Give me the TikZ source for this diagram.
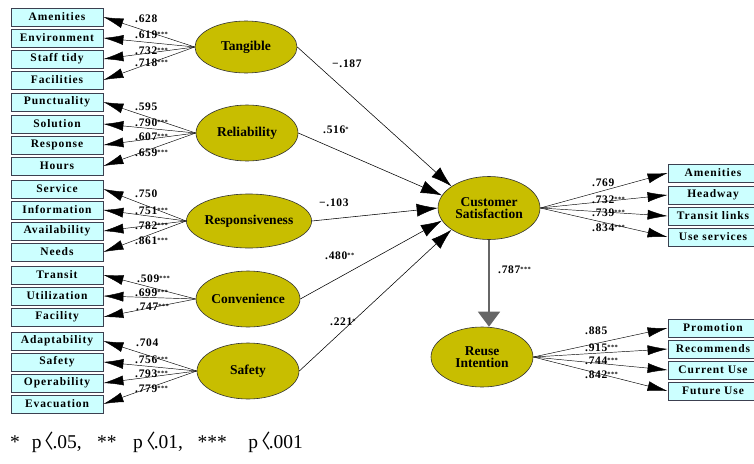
\documentclass[tikz,border=0pt]{standalone}
\usepackage{fontspec}
\setmainfont{Liberation Serif}
\newfontfamily\boxfont[LetterSpace=8]{Liberation Serif}
\newfontfamily\numfont[LetterSpace=6]{Liberation Serif}
\newfontfamily\cjk{Noto Sans CJK KR}
\usetikzlibrary{arrows.meta,shapes.geometric}
\definecolor{boxfill}{RGB}{204,255,255}
\definecolor{boxline}{RGB}{60,64,80}
\definecolor{latfill}{RGB}{200,190,0}
\newcommand\stars[1]{\raisebox{2.5pt}{\fontsize{6.5}{6}\selectfont #1}}
\newcommand\ang{\hspace{-6.7pt}{\cjk 〈}\hspace{-2pt}}
\tikzset{
  obs/.style={draw=boxline, line width=0.8pt, fill=boxfill, minimum width=92pt, minimum height=18pt, inner sep=0pt,
    font=\boxfont\bfseries\fontsize{11.5}{12}\selectfont},
  lat/.style={ellipse, draw=black!80, line width=0.6pt, fill=latfill, minimum width=102pt, minimum height=56pt, inner sep=0pt,
    font=\bfseries\fontsize{13.5}{14}\selectfont, align=center},
  load/.style={line width=0.45pt, -{Latex[length=20pt,width=10pt]}},
  path/.style={line width=0.55pt, -{Latex[length=21pt,width=13pt]}},
  coef/.style={font=\numfont\bfseries\fontsize{11.5}{11}\selectfont, inner sep=0pt, anchor=west},
}
\begin{document}
\begin{tikzpicture}[x=1pt,y=-1pt]
\useasboundingbox (0,0) rectangle (754,463);
% left observed boxes
\foreach \n/\t/\y in {a1/Amenities/17, a2/Environment/38, a3/Staff tidy/59, a4/Facilities/80,
  b1/Punctuality/102, b2/Solution/124, b3/Response/145, b4/Hours/166,
  c1/Service/189, c2/Information/210, c3/Availability/231, c4/Needs/252,
  d1/Transit/275, d2/Utilization/296, d3/Facility/317,
  e1/Adaptability/341, e2/Safety/362, e3/Operability/383, e4/Evacuation/404}
  \node[obs] (\n) at (57,\y) {\t};
% latent variables
\node[lat, minimum height=52pt] (tan) at (246,47) {Tangible};
\node[lat] (rel) at (247,133) {Reliability};
\node[lat, minimum height=54pt] (res) at (249,221) {Responsiveness};
\node[lat] (con) at (248,299) {Convenience};
\node[lat] (saf) at (248,371) {Safety};
\node[lat, minimum height=63pt] (cs) at (489,208) {Customer\\[-2pt]Satisfaction};
\node[lat, minimum height=60pt] (ri) at (482,357) {Reuse\\[-2pt]Intention};
% right observed boxes
\foreach \n/\t/\y in {f1/Amenities/173, f2/Headway/195, f3/Transit links/216, f4/Use services/237,
  g1/Promotion/328, g2/Recommends/349, g3/Current Use/370, g4/Future Use/391}
  \node[obs, minimum width=90pt] (\n) at (713,\y) {\t};
% loadings left
\foreach \s/\l in {tan/a1,tan/a2,tan/a3,tan/a4, rel/b1,rel/b2,rel/b3,rel/b4,
  res/c1,res/c2,res/c3,res/c4, con/d1,con/d2,con/d3, saf/e1,saf/e2,saf/e3,saf/e4}
  \draw[load] (\s.west) -- (\l.east);
% loadings right
\foreach \l in {f1,f2,f3,f4} \draw[load] (cs.east) -- (\l.west);
\foreach \l in {g1,g2,g3,g4} \draw[load] (ri.east) -- (\l.west);
% structural paths
\draw[path] (tan.east) -- (cs.150);
\draw[path] (rel.east) -- (cs.165);
\draw[path] (res.east) -- (cs.180);
\draw[path] (con.east) -- (cs.195);
\draw[path] (saf.east) -- (cs.210);
\draw[line width=1.4pt, draw=black!60, -{Triangle[length=15pt,width=22pt]}, ] (cs.south) -- (cs.south |- ri.north);
% coefficient labels left
\node[coef] (l1) at (135,19) {.628};
\node[coef] (l2) at (135,35) {.619\stars{***}};
\node[coef] (l3) at (135,51) {.732\stars{***}};
\node[coef] (l4) at (135,63) {.718\stars{***}};
\node[coef] (l5) at (135,107) {.595};
\node[coef] (l6) at (135,123) {.790\stars{***}};
\node[coef] (l7) at (135,137) {.607\stars{***}};
\node[coef] (l8) at (135,153) {.659\stars{***}};
\node[coef] (l9) at (135,194) {.750};
\node[coef] (l10) at (135,211) {.751\stars{***}};
\node[coef] (l11) at (135,226) {.782\stars{***}};
\node[coef] (l12) at (135,241) {.861\stars{***}};
\node[coef] (l13) at (137,279) {.509\stars{***}};
\node[coef] (l14) at (135,293) {.699\stars{***}};
\node[coef] (l15) at (136,307) {.747\stars{***}};
\node[coef] (l16) at (136,343) {.704};
\node[coef] (l17) at (135,360) {.756\stars{***}};
\node[coef] (l18) at (135,374) {.793\stars{***}};
\node[coef] (l19) at (135,389) {.779\stars{***}};
% path labels
\node[coef] (p1) at (332,64) {\textminus.187};
\node[coef] (p2) at (323,130) {.516\stars{*}};
\node[coef] (p3) at (319,203) {\textminus.103};
\node[coef] (p4) at (325,256) {.480\stars{**}};
\node[coef] (p5) at (330,322) {.221\stars{*}};
\node[coef] (p6) at (498,270) {.787\stars{***}};
% right labels
\node[coef] (r1) at (592,183) {.769};
\node[coef] (r2) at (592,200) {.732\stars{***}};
\node[coef] (r3) at (592,213) {.739\stars{***}};
\node[coef] (r4) at (592,228) {.834\stars{***}};
\node[coef] (s1) at (585,331) {.885};
\node[coef] (s2) at (585,348) {.915\stars{***}};
\node[coef] (s3) at (585,361) {.744\stars{***}};
\node[coef] (s4) at (585,375) {.842\stars{***}};
% footnote
\node[anchor=west, inner sep=0pt, font=\fontsize{19.5}{20}\selectfont] (fn) at (10,442)
  {*\hspace{12pt}p\ang.05,\hspace{15.5pt}**\hspace{16.5pt}p\ang.01,\hspace{14.5pt}***\hspace{21.5pt}p\ang.001};
\end{tikzpicture}
\end{document}
